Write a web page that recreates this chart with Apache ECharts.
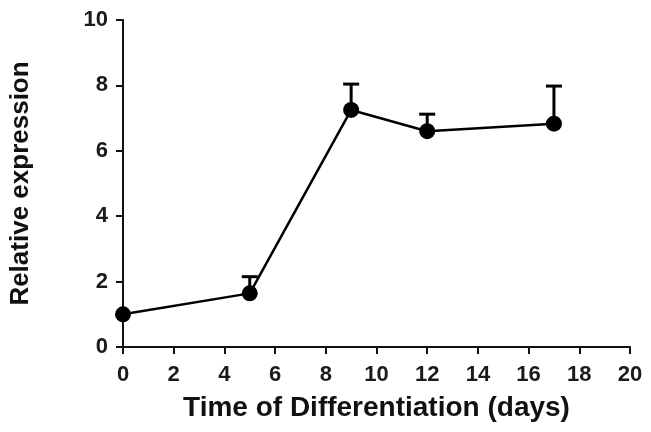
<!DOCTYPE html>
<html><head><meta charset="utf-8">
<script src="https://cdn.jsdelivr.net/npm/echarts@6/dist/echarts.min.js"></script>
<style>html,body{margin:0;padding:0;background:#fff}#c{width:651px;height:432px}</style>
</head><body><div id="c"></div>
<script>
const days = [0, 5, 9, 12, 17];
const meanValues = [1.0, 1.64, 7.25, 6.6, 6.83];
const upperErrors = [1.0, 2.15, 8.04, 7.12, 7.98];
const xTicks = [0, 2, 4, 6, 8, 10, 12, 14, 16, 18, 20];
const yTicks = [0, 2, 4, 6, 8, 10];

const chart = echarts.init(document.getElementById('c'), null, {renderer: 'canvas'});
const font = 'Liberation Sans, Arial, sans-serif';
const points = days.map((d, i) => [d, meanValues[i]]);
const errData = days.map((d, i) => [d, meanValues[i], upperErrors[i]]);

chart.setOption({
  animation: false,
  backgroundColor: '#fff',
  grid: {left: 120, right: 21, top: 20, bottom: 85},
  xAxis: {
    type: 'value', min: xTicks[0], max: xTicks[xTicks.length - 1], interval: 2,
    name: 'Time of Differentiation (days)', nameLocation: 'middle', nameGap: 47,
    nameTextStyle: {fontFamily: font, fontSize: 28, fontWeight: 'bold', color: '#111'},
    axisLine: {lineStyle: {color: '#111', width: 2}},
    axisTick: {show: true, length: 7, lineStyle: {color: '#111', width: 2}},
    axisLabel: {fontFamily: font, fontSize: 22, fontWeight: 'bold', color: '#1a1a1a', margin: 17},
    splitLine: {show: false}
  },
  yAxis: {
    type: 'value', min: yTicks[0], max: yTicks[yTicks.length - 1], interval: 2,
    name: 'Relative expression', nameLocation: 'middle', nameGap: 89,
    nameTextStyle: {fontFamily: font, fontSize: 26, fontWeight: 'bold', color: '#111'},
    axisLine: {show: true, lineStyle: {color: '#111', width: 2}},
    axisTick: {show: true, length: 7, lineStyle: {color: '#111', width: 2}},
    axisLabel: {fontFamily: font, fontSize: 22, fontWeight: 'bold', color: '#1a1a1a', margin: 15},
    splitLine: {show: false}
  },
  series: [
    {
      type: 'custom',
      data: errData,
      z: 1,
      renderItem: function (params, api) {
        const x = api.value(0);
        const p0 = api.coord([x, api.value(1)]);
        const p1 = api.coord([x, api.value(2)]);
        if (Math.abs(p0[1] - p1[1]) < 1) return null;
        const hw = 8;
        return {
          type: 'group',
          children: [
            {type: 'line', shape: {x1: p0[0], y1: p0[1], x2: p1[0], y2: p1[1]}, style: {stroke: '#000', lineWidth: 3}},
            {type: 'line', shape: {x1: p1[0] - hw, y1: p1[1], x2: p1[0] + hw, y2: p1[1]}, style: {stroke: '#000', lineWidth: 3}}
          ]
        };
      }
    },
    {
      type: 'line',
      data: points,
      z: 2,
      symbol: 'circle', symbolSize: 16,
      lineStyle: {color: '#000', width: 2.5},
      itemStyle: {color: '#000'}
    }
  ]
});
</script></body></html>
